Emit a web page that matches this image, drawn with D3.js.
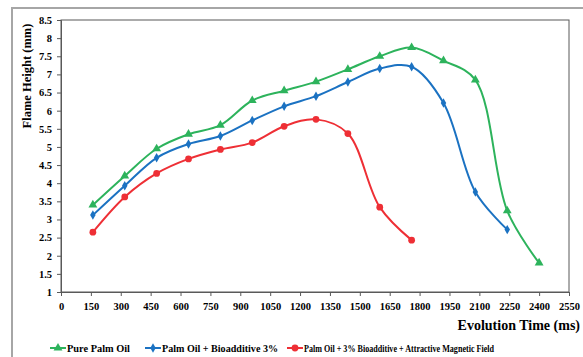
<!DOCTYPE html>
<html>
<head>
<meta charset="utf-8">
<script src="https://cdn.jsdelivr.net/npm/d3@7"></script>
<style>
  body { margin: 0; background: #fff; }
  svg { display: block; font-family: "Liberation Serif", "Times New Roman", serif; font-weight: bold; }
</style>
</head>
<body>
<div id="chart"></div>
<script>
// data
const times = [160, 320, 480, 640, 800, 960, 1120, 1280, 1440, 1600, 1760, 1920, 2080, 2240, 2400];
const pureOil = [3.4, 4.2, 4.95, 5.35, 5.6, 6.28, 6.55, 6.8, 7.14, 7.5, 7.74, 7.38, 6.85, 3.24, 1.8];
const bioOil = [3.12, 3.93, 4.7, 5.08, 5.3, 5.73, 6.12, 6.4, 6.79, 7.16, 7.21, 6.21, 3.76, 2.72];
const magOil = [2.65, 3.62, 4.27, 4.67, 4.93, 5.12, 5.57, 5.76, 5.37, 3.34, 2.43];
const xTicks = d3.range(0, 2551, 150);
const yTicks = d3.range(1, 8.51, 0.5);

const series = [
  {name: 'Pure Palm Oil', values: pureOil, color: '#2db35c', marker: 'triangle'},
  {name: 'Palm Oil + Bioadditive 3%', values: bioOil, color: '#1b72c2', marker: 'diamond'},
  {name: 'Palm Oil + 3% Bioadditive + Attractive Magnetic Field', values: magOil, color: '#ee2f35', marker: 'circle'}
];

const W = 583, H = 357;
const margin = {top: 20, right: 14, bottom: 65, left: 61};
const width = W - margin.left - margin.right;
const height = H - margin.top - margin.bottom;

const svg = d3.select('#chart').append('svg')
  .attr('width', W)
  .attr('height', H);

// outer frame (only top and left edges show)
svg.append('path')
  .attr('d', 'M12,' + H + 'V8H' + W)
  .attr('fill', 'none')
  .attr('stroke', '#a6a6a6')
  .attr('stroke-width', 2);

const g = svg.append('g')
  .attr('transform', 'translate(' + margin.left + ',' + margin.top + ')');

const x = d3.scaleLinear().domain([0, 2550]).range([0, width]);
const y = d3.scaleLinear().domain([1, 8.5]).range([height, 0]);

// plot box
g.append('rect')
  .attr('width', width)
  .attr('height', height)
  .attr('fill', 'none')
  .attr('stroke', '#595959')
  .attr('stroke-width', 1);

const xAxis = g.append('g')
  .attr('transform', 'translate(0,' + height + ')')
  .call(d3.axisBottom(x).tickValues(xTicks).tickSize(4).tickPadding(7).tickFormat(d3.format('d')));

const yAxis = g.append('g')
  .call(d3.axisLeft(y).tickValues(yTicks).tickSize(4).tickPadding(5).tickFormat(d => d));

[xAxis, yAxis].forEach(a => {
  a.select('.domain').attr('stroke', '#595959');
  a.selectAll('.tick line').attr('stroke', '#595959');
  a.selectAll('.tick text')
    .attr('fill', '#000')
    .style('font-family', '"Liberation Serif", serif')
    .style('font-weight', 'bold')
    .style('font-size', '10.5px');
});

// the lines
const line = d3.line()
  .x((d, i) => x(times[i]))
  .y(d => y(d))
  .curve(d3.curveCatmullRom.alpha(0.5));

const markerPath = {
  triangle: d3.symbol().type(d3.symbolTriangle).size(34)(),
  diamond: d3.symbol().type(d3.symbolDiamond).size(26)(),
  circle: d3.symbol().type(d3.symbolCircle).size(36)()
};

series.forEach(s => {
  g.append('path')
    .attr('d', line(s.values))
    .attr('fill', 'none')
    .attr('stroke', s.color)
    .attr('stroke-width', 2);

  g.selectAll(null)
    .data(s.values)
    .enter()
    .append('path')
    .attr('d', markerPath[s.marker])
    .attr('transform', (d, i) => 'translate(' + x(times[i]) + ',' + y(d) + ')')
    .attr('fill', s.color);
});

// axis titles
svg.append('text')
  .attr('x', 580)
  .attr('y', 330)
  .attr('text-anchor', 'end')
  .style('font-size', '14px')
  .text('Evolution Time (ms)');

svg.append('text')
  .attr('transform', 'translate(31,76) rotate(-90)')
  .attr('text-anchor', 'middle')
  .style('font-size', '12.5px')
  .text('Flame Height (mm)');

// legend
const legendX = [50, 145, 287];
const legendW = [63, 116, 190];
const legend = svg.selectAll('.legend')
  .data(series)
  .enter()
  .append('g')
  .attr('class', 'legend')
  .attr('transform', (d, i) => 'translate(' + legendX[i] + ',348)');

legend.append('line')
  .attr('x1', 0)
  .attr('x2', 16)
  .attr('stroke', d => d.color)
  .attr('stroke-width', 2);

legend.append('path')
  .attr('d', d => markerPath[d.marker])
  .attr('transform', 'translate(8,0)')
  .attr('fill', d => d.color);

legend.append('text')
  .attr('x', 17)
  .attr('y', 4)
  .attr('textLength', (d, i) => legendW[i])
  .attr('lengthAdjust', 'spacingAndGlyphs')
  .style('font-size', '11px')
  .text(d => d.name);
</script>
</body>
</html>
